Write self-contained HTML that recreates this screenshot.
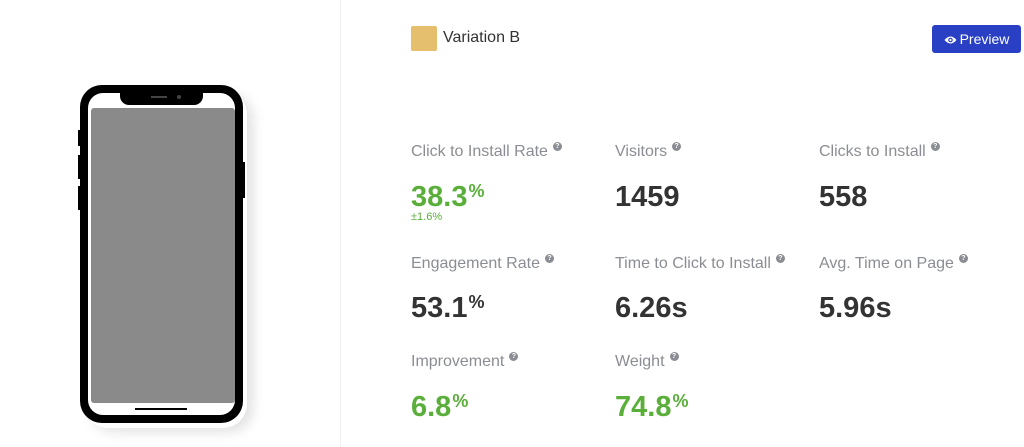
<!DOCTYPE html>
<html><head><meta charset="utf-8"><style>
body{margin:0;width:1024px;height:447px;background:#fff;position:relative;overflow:hidden;font-family:"Liberation Sans",Arial,sans-serif}
.a{position:absolute;white-space:nowrap}
.l{font-size:16px;line-height:16px;color:#8a8d93}
.v{font-size:29px;line-height:29px;font-weight:bold;color:#333}
.g{color:#5aaf3a}
.v sup{font-size:18px;vertical-align:top;position:relative;top:-6px;margin-left:1px}
.q{display:inline-block;width:9px;height:9px;border-radius:50%;background:#8a8d93;color:#fff;font-size:7px;line-height:9px;text-align:center;font-weight:bold;vertical-align:top;margin-left:5px;margin-top:-2px}
</style></head><body>
<div class="a" style="left:0;top:0;width:340px;height:447px;background:#fff;border-right:1px solid #f1f1f1"></div>
<div class="a" style="left:84px;top:90px;width:163px;height:338px;border-radius:24px;box-shadow:6px 4px 12px rgba(0,0,0,0.12)"></div>
<div class="a" style="left:78px;top:130px;width:4px;height:16px;background:#000"></div>
<div class="a" style="left:78px;top:155px;width:4px;height:24px;background:#000"></div>
<div class="a" style="left:78px;top:186px;width:4px;height:24px;background:#000"></div>
<div class="a" style="left:241px;top:162px;width:4px;height:36px;background:#000"></div>
<div class="a" style="left:80px;top:85px;width:163px;height:338px;background:#000;border-radius:22px"></div>
<div class="a" style="left:88px;top:93px;width:147px;height:322px;background:#fff;border-radius:15px"></div>
<div class="a" style="left:120px;top:90px;width:83px;height:15px;background:#000;border-radius:0 0 9px 9px"></div>
<div class="a" style="left:151px;top:96px;width:16px;height:2px;background:#444"></div>
<div class="a" style="left:177px;top:95px;width:4px;height:4px;background:#444;border-radius:50%"></div>
<div class="a" style="left:91px;top:108px;width:144px;height:295px;background:#8a8a8a;border-radius:3px"></div>
<div class="a" style="left:135px;top:408px;width:52px;height:2px;background:#000"></div>

<div class="a" style="left:411px;top:26px;width:26px;height:25px;background:#e5bf6e;border-radius:2px"></div>
<div class="a" style="left:443px;top:30px;font-size:16px;line-height:16px;color:#333">Variation B</div>
<div class="a" style="left:932px;top:25px;width:89px;height:28px;background:#2a40c4;border-radius:3px;color:#fff;font-size:14px;line-height:28px;text-align:center"><svg width="13" height="10" viewBox="0 0 13 10" style="vertical-align:-1px;margin-right:3px"><path d="M0.5 5 Q6.5 -2 12.5 5 Q6.5 12 0.5 5Z" fill="#fff"/><circle cx="6.5" cy="5" r="2.3" fill="#2a40c4"/><circle cx="6.5" cy="5" r="1.1" fill="#fff"/></svg>Preview</div>

<div class="a l" style="left:411px;top:144px">Click to Install Rate<span class="q">?</span></div>
<div class="a l" style="left:615px;top:144px">Visitors<span class="q">?</span></div>
<div class="a l" style="left:819px;top:144px">Clicks to Install<span class="q">?</span></div>
<div class="a v g" style="left:411px;top:183px">38.3<sup>%</sup></div>
<div class="a g" style="left:411px;top:212px;font-size:11px;line-height:11px">±1.6%</div>
<div class="a v" style="left:615px;top:183px">1459</div>
<div class="a v" style="left:819px;top:183px">558</div>

<div class="a l" style="left:411px;top:256px">Engagement Rate<span class="q">?</span></div>
<div class="a l" style="left:615px;top:256px">Time to Click to Install<span class="q">?</span></div>
<div class="a l" style="left:819px;top:256px">Avg. Time on Page<span class="q">?</span></div>
<div class="a v" style="left:411px;top:294px">53.1<sup>%</sup></div>
<div class="a v" style="left:615px;top:294px">6.26s</div>
<div class="a v" style="left:819px;top:294px">5.96s</div>

<div class="a l" style="left:411px;top:354px">Improvement<span class="q">?</span></div>
<div class="a l" style="left:615px;top:354px">Weight<span class="q">?</span></div>
<div class="a v g" style="left:411px;top:393px">6.8<sup>%</sup></div>
<div class="a v g" style="left:615px;top:393px">74.8<sup>%</sup></div>
</body></html>
